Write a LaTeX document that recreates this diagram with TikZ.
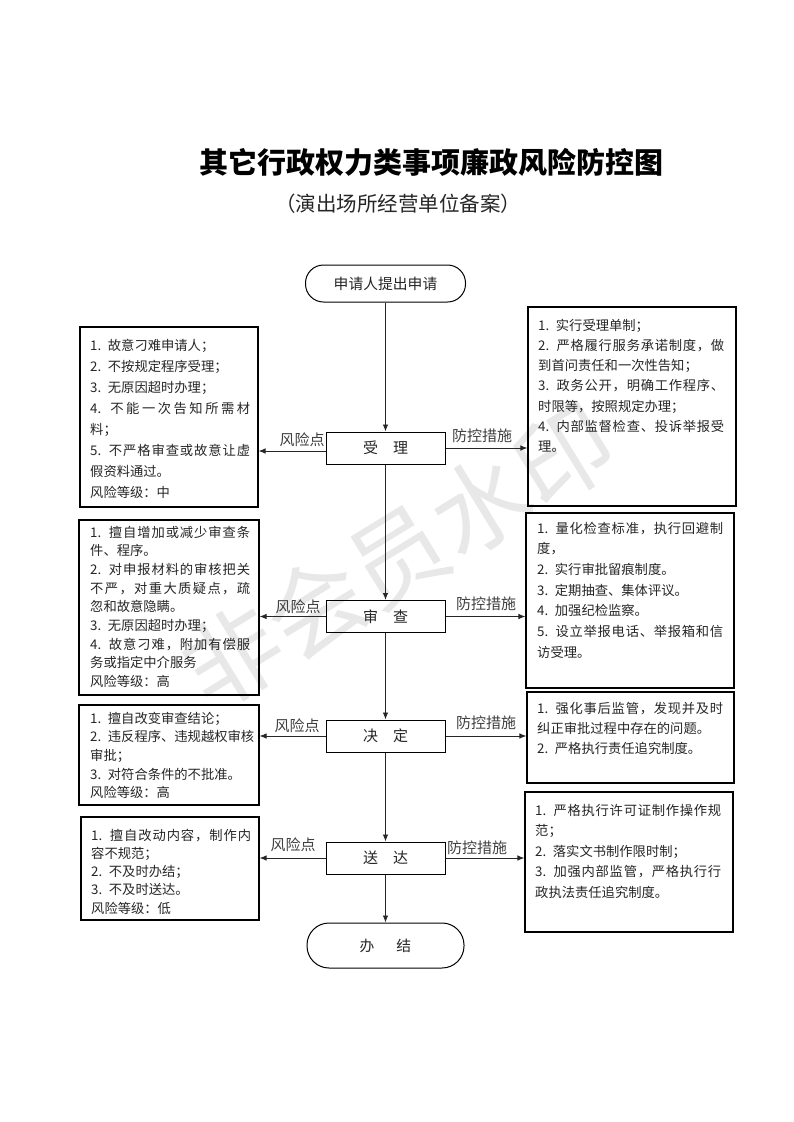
\documentclass[tikz,border=0pt]{standalone}
\usepackage{fontspec}
\setmainfont{Noto Sans CJK SC}
\usetikzlibrary{arrows.meta,calc}
\def\jlEnd{}
\def\jl#1{\makebox[\hsize][s]{\jlA#1\jlEnd}}
\def\jlA#1{#1\jlB}
\def\jlB#1{\ifx\jlEnd#1\else\hfil#1\expandafter\jlB\fi}
\tikzset{
  flowbox/.style={draw, line width=1pt, minimum width=119pt, minimum height=32pt, inner sep=0pt,
    font=\fontsize{15}{15}\selectfont, text=black!85},
  term/.style={draw, line width=1pt, inner sep=0pt, font=\fontsize{14.8}{15}\selectfont, text=black!85},
  infobox/.style={draw, line width=1.1pt, inner sep=0pt},
  infotext/.style={anchor=base west, inner sep=0pt, align=left, text=black!85},
  arr/.style={-{Latex[length=7pt,width=5.5pt]}, line width=0.9pt, draw=black!85},
  lab/.style={inner sep=0pt, font=\fontsize{15}{15}\selectfont, text=black!75}
}
\begin{document}
\begin{tikzpicture}[x=1pt,y=-1pt]
\useasboundingbox (0,0) rectangle (793,1122);
\fill[white] (0,0) rectangle (793,1122);

% watermark
\node[text=black!9, font=\fontsize{97}{97}\selectfont, rotate=31.5, inner sep=0pt] (wm) at (398,556) {非会员水印};

% titles
\node[inner sep=0pt, font=\fontsize{29}{29}\selectfont\bfseries] (title) at (431,162) {其它行政权力类事项廉政风险防控图};
\node[inner sep=0pt, font=\fontsize{20.5}{20.5}\selectfont, text=black!85] (sub) at (398,204) {（演出场所经营单位备案）};

% main flow
\node[term, minimum width=160pt, minimum height=37pt, rounded corners=18pt] (start) at (385.5,283.5) {申请人提出申请};
\node[flowbox] (B1) at (385.5,448) {受　理};
\node[flowbox] (B2) at (385.5,616.5) {审　查};
\node[flowbox] (B3) at (385.5,736) {决　定};
\node[flowbox] (B4) at (385.5,858) {送　达};
\node[term, minimum width=157pt, minimum height=45pt, rounded corners=22pt] (end) at (385.5,945.5) {办\hspace{22pt}结};

\draw[arr] (start) -- (B1);
\draw[arr] (B1) -- (B2);
\draw[arr] (B2) -- (B3);
\draw[arr] (B3) -- (B4);
\draw[arr] (B4) -- (end);

% left boxes
\node[infobox, minimum width=178pt, minimum height=180pt] (L1) at (169,417) {};
\node[infobox, minimum width=180pt, minimum height=175pt] (L2) at (169,607.5) {};
\node[infobox, minimum width=180pt, minimum height=100pt] (L3) at (169,755) {};
\node[infobox, minimum width=178pt, minimum height=103pt] (L4) at (170,868.5) {};
% right boxes
\node[infobox, minimum width=208pt, minimum height=199pt] (R1) at (632,406.5) {};
\node[infobox, minimum width=208pt, minimum height=175pt] (R2) at (630,600.5) {};
\node[infobox, minimum width=207pt, minimum height=91pt] (R3) at (630.5,737.5) {};
\node[infobox, minimum width=208pt, minimum height=140pt] (R4) at (629,862) {};

% side connectors
\draw[arr] ($(B1.west)+(0,3)$) coordinate (b1w) -- (b1w -| L1.east);
\draw[arr] (B1.east) -- (B1.east -| R1.west);
\draw[arr] (B2.west) -- (B2.west -| L2.east);
\draw[arr] (B2.east) -- (B2.east -| R2.west);
\draw[arr] (B3.west) -- (B3.west -| L3.east);
\draw[arr] (B3.east) -- (B3.east -| R3.west);
\draw[arr] (B4.west) -- (B4.west -| L4.east);
\draw[arr] (B4.east) -- (B4.east -| R4.west);

% labels
\node[lab] (k1) at (302,440) {风险点};
\node[lab] (c1) at (482,436) {防控措施};
\node[lab] (k2) at (298,607) {风险点};
\node[lab] (c2) at (486,604) {防控措施};
\node[lab] (k3) at (297,726) {风险点};
\node[lab] (c3) at (486,723) {防控措施};
\node[lab] (k4) at (293,845) {风险点};
\node[lab] (c4) at (477,848) {防控措施};

% texts
\node[infotext, text width=160pt, font=\fontsize{13.3}{21.1}\selectfont] (L1t) at (90,350) {%
1. 故意刁难申请人；\\
2. 不按规定程序受理；\\
3. 无原因超时办理；\\
\jl{{4. }不能一次告知所需材}\\
料；\\
\jl{{5. }不严格审查或故意让虚}\\
假资料通过。\\
风险等级：中};

\node[infotext, text width=186pt, font=\fontsize{13.3}{20.3}\selectfont] (R1t) at (538,330) {%
1. 实行受理单制；\\
\jl{{2. }严格履行服务承诺制度，做}\\
到首问责任和一次性告知；\\
\jl{{3. }政务公开，明确工作程序、}\\
时限等，按照规定办理；\\
\jl{{4. }内部监督检查、投诉举报受}\\
理。};

\node[infotext, text width=160pt, font=\fontsize{13.3}{18.7}\selectfont] (L2t) at (90,537) {%
\jl{{1. }擅自增加或减少审查条}\\
件、程序。\\
\jl{{2. }对申报材料的审核把关}\\
\jl{不严，对重大质疑点，疏}\\
忽和故意隐瞒。\\
3. 无原因超时办理；\\
\jl{{4. }故意刁难，附加有偿服}\\
务或指定中介服务\\
风险等级：高};

\node[infotext, text width=186pt, font=\fontsize{13.3}{20.7}\selectfont] (R2t) at (537,533) {%
\jl{{1. }量化检查标准，执行回避制}\\
度，\\
2. 实行审批留痕制度。\\
3. 定期抽查、集体评议。\\
4. 加强纪检监察。\\
\jl{{5. }设立举报电话、举报箱和信}\\
访受理。};

\node[infotext, text width=160pt, font=\fontsize{13.3}{18.7}\selectfont] (L3t) at (90,723) {%
1. 擅自改变审查结论；\\
\jl{{2. }违反程序、违规越权审核}\\
审批；\\
3. 对符合条件的不批准。\\
风险等级：高};

\node[infotext, text width=186pt, font=\fontsize{13.3}{20}\selectfont] (R3t) at (537,713) {%
\jl{{1. }强化事后监管，发现并及时}\\
纠正审批过程中存在的问题。\\
2. 严格执行责任追究制度。};

\node[infotext, text width=160pt, font=\fontsize{13.3}{18.3}\selectfont] (L4t) at (91,840) {%
\jl{{1. }擅自改动内容，制作内}\\
容不规范；\\
2. 不及时办结；\\
3. 不及时送达。\\
风险等级：低};

\node[infotext, text width=186pt, font=\fontsize{13.3}{20.5}\selectfont] (R4t) at (535,815) {%
\jl{{1. }严格执行许可证制作操作规}\\
范；\\
2. 落实文书制作限时制；\\
\jl{{3. }加强内部监管，严格执行行}\\
政执法责任追究制度。};
\end{tikzpicture}
\end{document}
